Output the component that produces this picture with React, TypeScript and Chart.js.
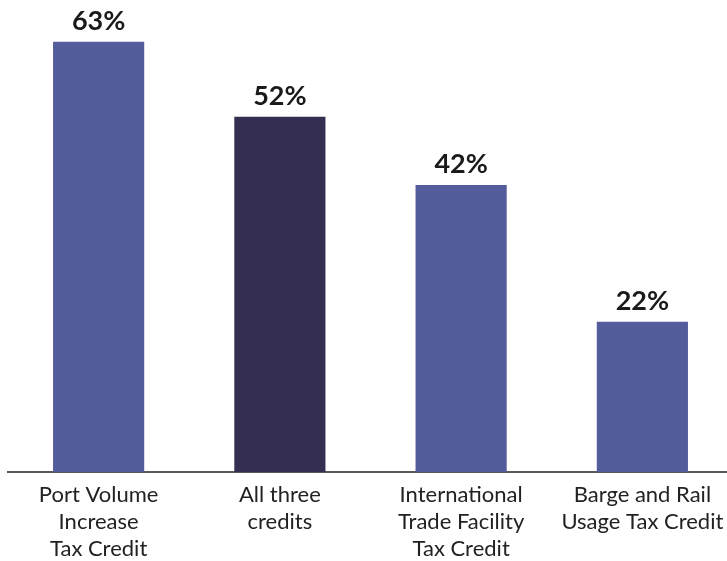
import React, { useEffect, useRef } from "react";
import { Chart, registerables } from "chart.js";

Chart.register(...registerables);

const categories: string[][] = [
  ["Port Volume", "Increase", "Tax Credit"],
  ["All three", "credits"],
  ["International", "Trade Facility", "Tax Credit"],
  ["Barge and Rail", "Usage Tax Credit"],
];
const values: number[] = [63, 52, 42, 22];
const barColors: string[] = ["#545c9b", "#342e50", "#545c9b", "#545c9b"];

const valueLabels = {
  id: "valueLabels",
  afterDatasetsDraw(chart: any) {
    const ctx = chart.ctx;
    const meta = chart.getDatasetMeta(0);
    ctx.save();
    ctx.font = "bold 27px Lato";
    ctx.fillStyle = "#1a1a1a";
    ctx.textAlign = "center";
    ctx.textBaseline = "alphabetic";
    meta.data.forEach((bar: any, i: number) => {
      ctx.fillText(values[i] + "%", bar.x, bar.y - 12);
    });
    ctx.restore();
  },
};

export default function App() {
  const ref = useRef<HTMLCanvasElement>(null);
  useEffect(() => {
    document.body.style.margin = "0";
    const chart = new Chart(ref.current!, {
      type: "bar",
      data: {
        labels: categories,
        datasets: [
          {
            data: values,
            backgroundColor: barColors,
            categoryPercentage: 1,
            barPercentage: 0.503,
          },
        ],
      },
      options: {
        responsive: false,
        animation: false,
        layout: { padding: { top: 28, left: 8, right: 7, bottom: 0 } },
        plugins: { legend: { display: false }, tooltip: { enabled: false } },
        scales: {
          x: {
            grid: { display: false, drawTicks: false },
            border: { display: true, color: "#595959", width: 2 },
            ticks: {
              color: "#222222",
              font: { family: "Lato", size: 22, lineHeight: "27px" },
              padding: 9,
              maxRotation: 0,
              autoSkip: false,
            },
            afterFit: (scale: any) => {
              scale.height = 89;
            },
          },
          y: {
            display: false,
            min: 0,
            max: 65,
          },
        },
      },
      plugins: [valueLabels],
    });
    return () => chart.destroy();
  }, []);
  return (
    <div style={{ width: 727, height: 561, overflow: "hidden", position: "relative", background: "#fff" }}>
      <canvas ref={ref} width={740} height={561} style={{ width: 740, height: 561, display: "block" }} />
    </div>
  );
}
